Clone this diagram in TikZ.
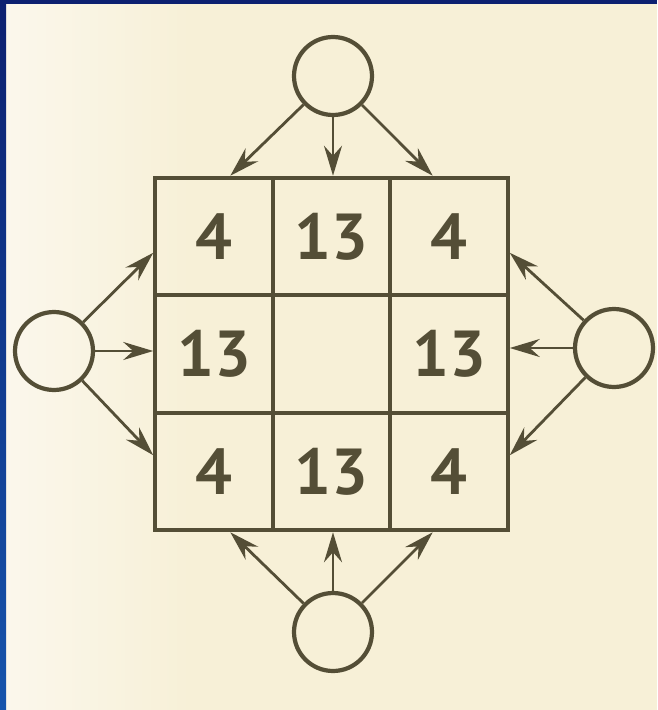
\documentclass[tikz,border=0pt]{standalone}
\usepackage{fontspec}
\newfontfamily\digitfont{PT Sans}
\usetikzlibrary{arrows.meta}
\definecolor{ink}{RGB}{84,78,54}
\definecolor{paper}{RGB}{247,240,215}
\definecolor{paperL}{RGB}{251,247,236}
\definecolor{frameT}{RGB}{12,32,112}
\definecolor{frameB}{RGB}{22,84,172}
\tikzset{
  cell/.style={draw=ink, line width=2.3pt, minimum size=2.35cm, inner sep=0pt,
    font=\digitfont\bfseries\fontsize{37}{40}\selectfont, text=ink},
  ring/.style={circle, draw=ink, line width=2.4pt, minimum size=1.56cm, inner sep=0pt},
  feed/.style={draw=ink, line width=1.6pt, -{Stealth[length=0.6cm, width=0.36cm, inset=0.2cm]}}
}

\begin{document}
\begin{tikzpicture}[x=0.02cm, y=-0.02cm]
% scanned page and slide frame
\useasboundingbox (0,0) rectangle (657,710);
\fill[paper] (0,0) rectangle (657,710);
\shade[left color=paperL, right color=paper] (6,4) rectangle (190,710);
\shade[top color=frameT, bottom color=frameB] (0,0) rectangle (6,710);
\fill[frameT] (0,0) rectangle (657,4);
% the 3x3 square
\node[cell] (c11) at (214,236.5) {4};
\node[cell] (c12) at (331.5,236.5) {13};
\node[cell] (c13) at (449,236.5) {4};
\node[cell] (c21) at (214,354) {13};
\node[cell] (c22) at (331.5,354) {};
\node[cell] (c23) at (449,354) {13};
\node[cell] (c31) at (214,471.5) {4};
\node[cell] (c32) at (331.5,471.5) {13};
\node[cell] (c33) at (449,471.5) {4};
% empty circles on the four sides
\node[ring] (top) at (333,76) {};
\node[ring] (lft) at (54,351) {};
\node[ring] (rgt) at (614,348) {};
\node[ring] (bot) at (333,632) {};
% arrows into the border of the square
\draw[feed] (top) -- (c11.75);
\draw[feed] (top) -- (top |- c12.north);
\draw[feed] (top) -- (c13.105);
\draw[feed] (lft) -- (c11.195);
\draw[feed] (lft) -- (lft -| c21.west);
\draw[feed] (lft) -- (c31.165);
\draw[feed] (rgt) -- (c13.345);
\draw[feed] (rgt) -- (rgt -| c23.east);
\draw[feed] (rgt) -- (c33.15);
\draw[feed] (bot) -- (c31.285);
\draw[feed] (bot) -- (bot |- c32.south);
\draw[feed] (bot) -- (c33.255);
\end{tikzpicture}
\end{document}
